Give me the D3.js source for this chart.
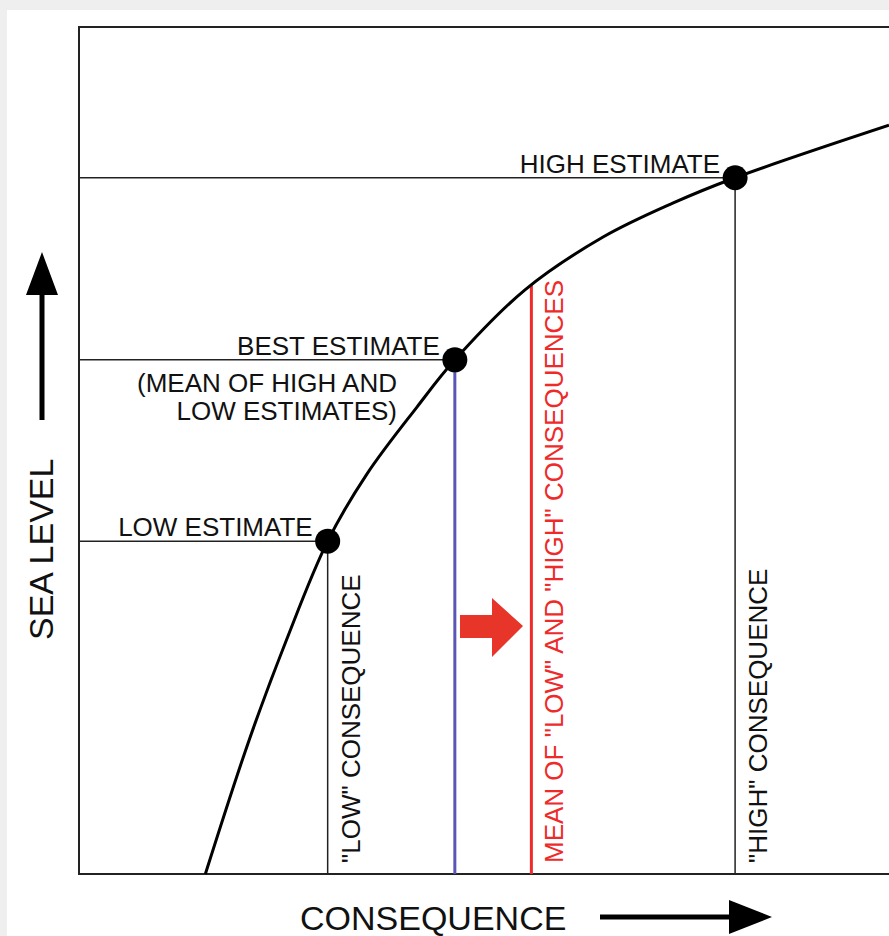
<!DOCTYPE html>
<html>
<head>
<meta charset="utf-8">
<script src="https://cdn.jsdelivr.net/npm/d3@7"></script>
<style>
  body { margin: 0; background: #efefef; }
  text { font-family: "Liberation Sans", Arial, Helvetica, sans-serif; }
</style>
</head>
<body>
<div id="chart"></div>
<script>
// curve of sea level vs consequence (arbitrary units 0-100)
var curveX = [15.6, 21.0, 25.6, 30.7, 35.6, 41.7, 46.4, 55.1, 64.7, 73.3, 81.0, 100];
var curveY = [0, 15.8, 27.6, 39.3, 47.3, 55.1, 60.7, 69.0, 75.2, 79.2, 82.2, 88.4];

// the three estimates on the curve
var estNames = ["LOW ESTIMATE", "BEST ESTIMATE", "HIGH ESTIMATE"];
var estX = [30.7, 46.4, 81.0];
var estY = [39.3, 60.7, 82.2];

// vertical consequence lines
var consNames = ["\"LOW\" CONSEQUENCE", "", "MEAN OF \"LOW\" AND \"HIGH\" CONSEQUENCES", "\"HIGH\" CONSEQUENCE"];
var consX = [30.7, 46.4, 55.85, 81.0];
var consTop = [39.3, 60.7, 69.5, 82.2];
var consColor = ["#222", "#5b55b5", "#ee2a2a", "#222"];

let svg = d3.select("#chart")
            .append("svg")
            .attr("width", 889)
            .attr("height", 936);

svg.append("rect")
   .attr("x", 7).attr("y", 10)
   .attr("width", 900).attr("height", 940)
   .attr("fill", "#fff");

let x = d3.scaleLinear().domain([0, 100]).range([79, 889]);
let y = d3.scaleLinear().domain([0, 100]).range([874, 27]);

let g = svg.append("g");

// frame
g.append("path")
 .attr("d", `M${x(110)},${y(100)} H${x(0)} V${y(0)} H${x(110)}`)
 .attr("fill", "none")
 .attr("stroke", "#222")
 .attr("stroke-width", 2);

// horizontal estimate lines
g.selectAll(".hline")
 .data(estX)
 .enter()
 .append("line")
 .attr("class", "hline")
 .attr("x1", x(0))
 .attr("x2", (d) => x(d))
 .attr("y1", (d, i) => y(estY[i]))
 .attr("y2", (d, i) => y(estY[i]))
 .attr("stroke", "#222")
 .attr("stroke-width", 1.5);

// vertical consequence lines
g.selectAll(".vline")
 .data(consX)
 .enter()
 .append("line")
 .attr("class", "vline")
 .attr("x1", (d) => x(d))
 .attr("x2", (d) => x(d))
 .attr("y1", y(0))
 .attr("y2", (d, i) => y(consTop[i]))
 .attr("stroke", (d, i) => consColor[i])
 .attr("stroke-width", (d, i) => i == 1 || i == 2 ? 3 : 1.5);

// curve
let line = d3.line()
             .x((d) => x(d[0]))
             .y((d) => y(d[1]))
             .curve(d3.curveCatmullRom.alpha(0.5));

g.append("path")
 .datum(curveX.map((d, i) => [d, curveY[i]]))
 .attr("d", line)
 .attr("fill", "none")
 .attr("stroke", "#000")
 .attr("stroke-width", 3);

// dots
g.selectAll(".dot")
 .data(estX)
 .enter()
 .append("circle")
 .attr("cx", (d) => x(d))
 .attr("cy", (d, i) => y(estY[i]))
 .attr("r", 12.5)
 .attr("fill", "#000");

// estimate labels
let labelFont = 26;
g.selectAll(".estlabel")
 .data(estNames)
 .enter()
 .append("text")
 .attr("x", (d, i) => x(estX[i]) - 15)
 .attr("y", (d, i) => y(estY[i]) - 5)
 .attr("text-anchor", "end")
 .attr("font-size", labelFont)
 .attr("fill", "#111")
 .text((d) => d);

g.append("text")
 .attr("x", 397).attr("y", 392)
 .attr("text-anchor", "end")
 .attr("font-size", labelFont)
 .attr("fill", "#111")
 .text("(MEAN OF HIGH AND");
g.append("text")
 .attr("x", 397).attr("y", 420)
 .attr("text-anchor", "end")
 .attr("font-size", labelFont)
 .attr("fill", "#111")
 .text("LOW ESTIMATES)");

// rotated consequence labels
g.selectAll(".conslabel")
 .data(consNames)
 .enter()
 .filter((d) => d != "")
 .append("text")
 .attr("transform", (d) => {
   let xi = consX[consNames.indexOf(d)];
   return `translate(${x(xi) + 32},${y(0) - 11}) rotate(-90)`;
 })
 .attr("font-size", labelFont)
 .attr("fill", (d) => consColor[consNames.indexOf(d)] == "#ee2a2a" ? "#ee2a2a" : "#111")
 .text((d) => d);

// red arrow between best and mean
g.append("path")
 .attr("d", "M460,615 H492 V598 L523,626 L492,657 V638 H460 Z")
 .attr("fill", "#e8352a");

// axis titles
svg.append("text")
   .attr("transform", "translate(53,640) rotate(-90)")
   .attr("font-size", 34)
   .attr("fill", "#111")
   .text("SEA LEVEL");

svg.append("path")
   .attr("d", "M39.5,420 V295 H26 L42,252 L58,295 H44.5 V420 Z")
   .attr("fill", "#000");

svg.append("text")
   .attr("x", 300).attr("y", 930)
   .attr("font-size", 34)
   .attr("fill", "#111")
   .text("CONSEQUENCE");

svg.append("path")
   .attr("d", "M600,914.5 H729 V900 L772,917 L729,934 V919.5 H600 Z")
   .attr("fill", "#000");
</script>
</body>
</html>
